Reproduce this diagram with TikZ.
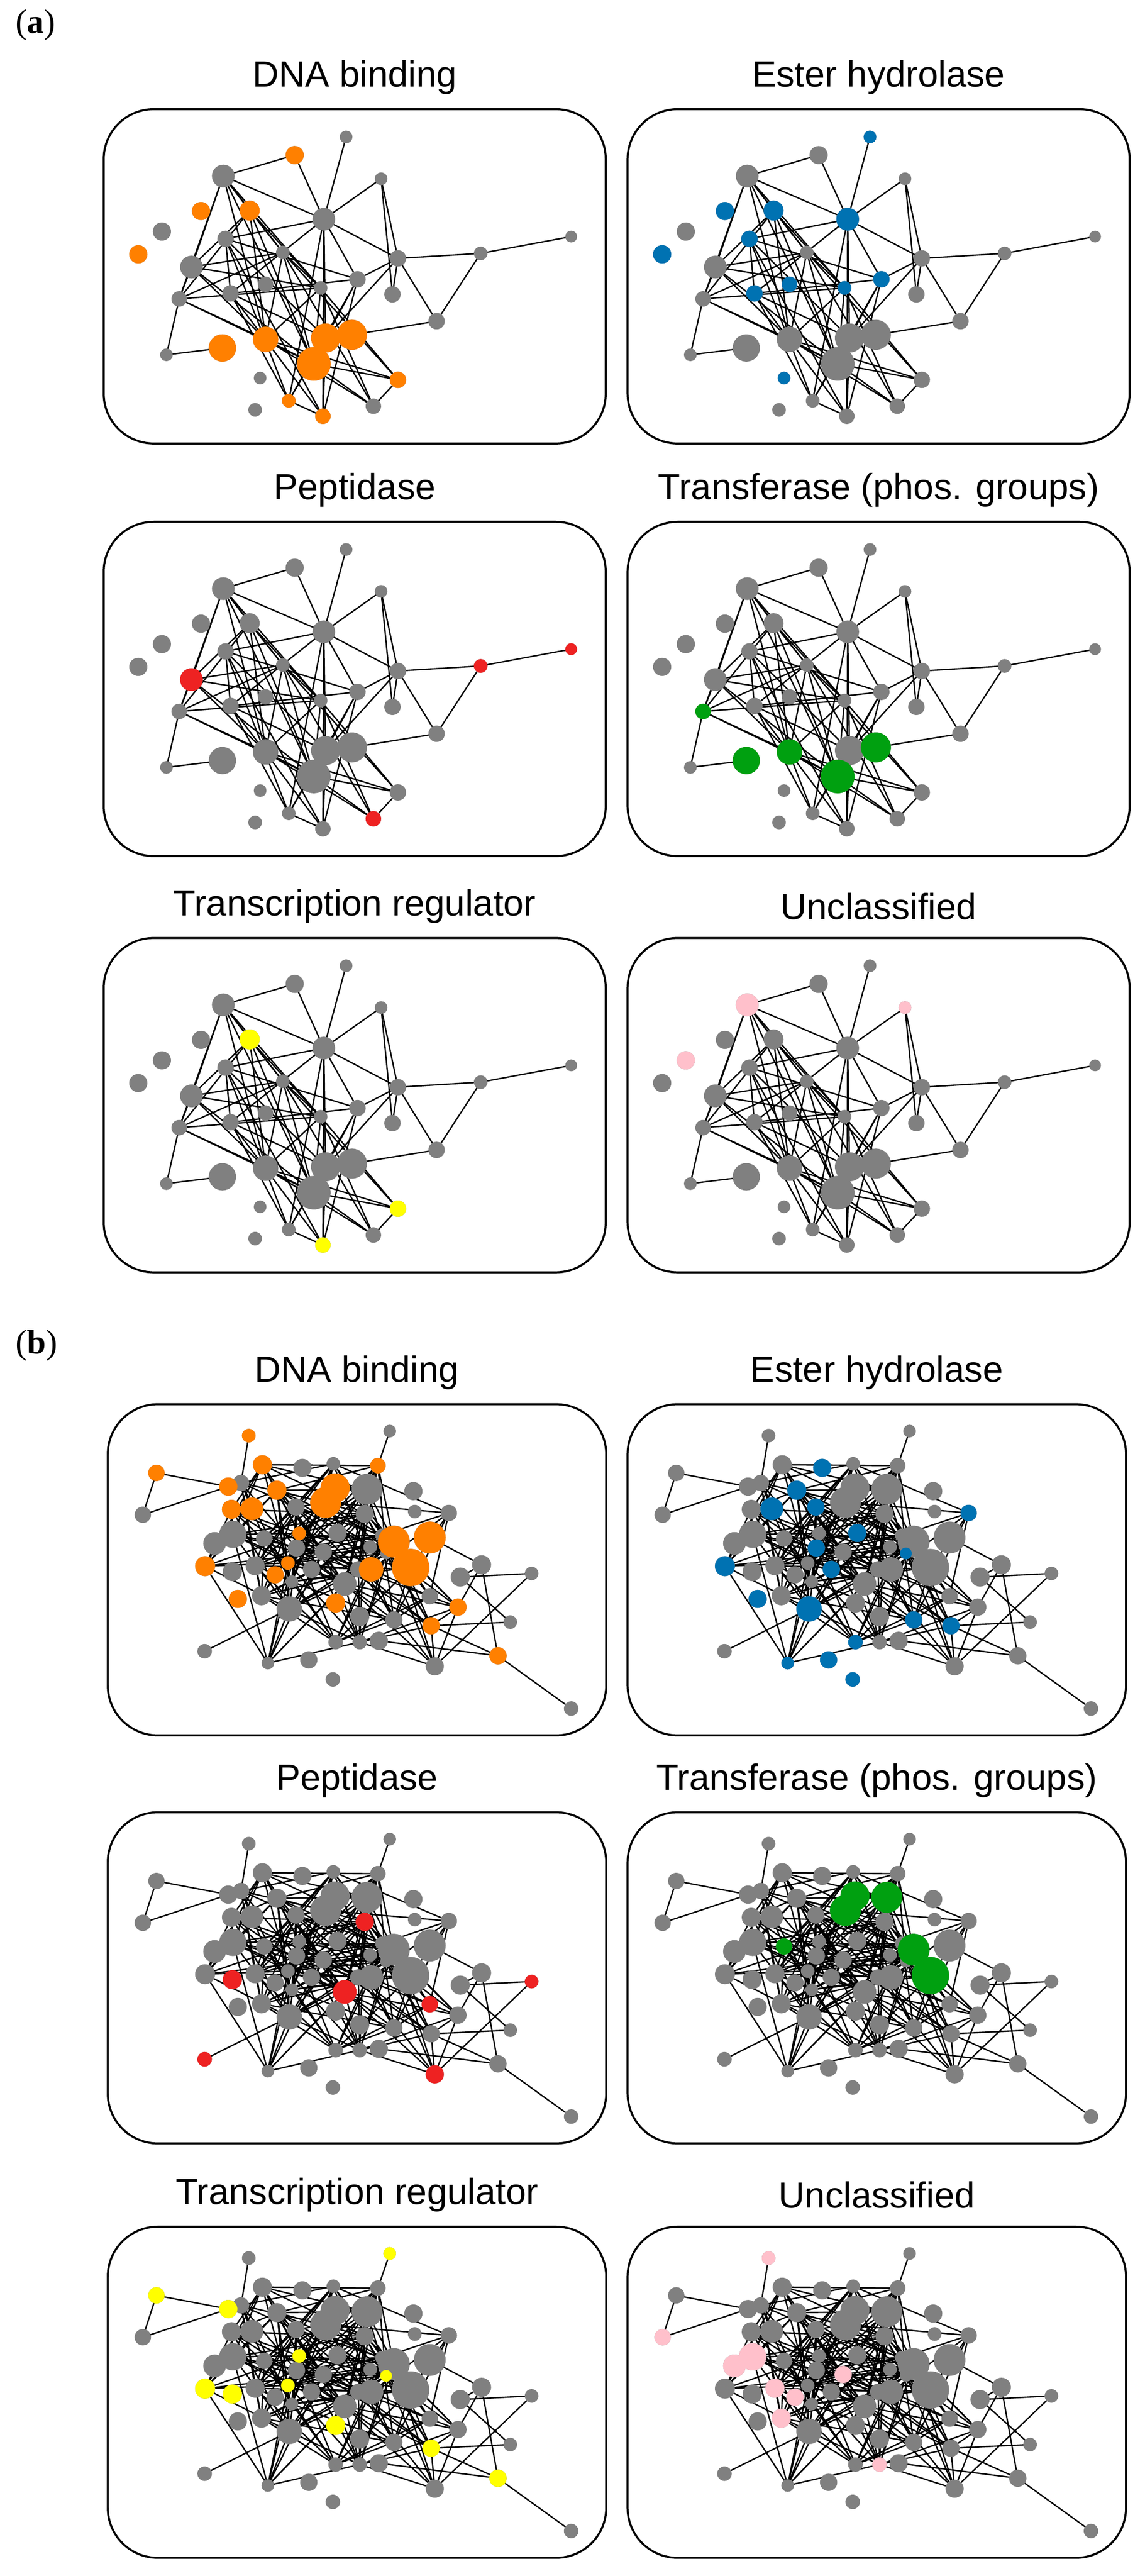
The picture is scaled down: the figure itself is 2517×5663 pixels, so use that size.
\documentclass[tikz,border=0pt]{standalone}
\usepackage{fontspec}
\setmainfont{Liberation Sans}
\newfontfamily\labfont{Liberation Serif}
\definecolor{cGr}{HTML}{808080}
\definecolor{cOr}{HTML}{FF8000}
\definecolor{cBl}{HTML}{0072B2}
\definecolor{cRe}{HTML}{EE2222}
\definecolor{cGn}{HTML}{00A010}
\definecolor{cYe}{HTML}{FFFF00}
\definecolor{cPk}{HTML}{FFC0CB}
\tikzset{edge/.style={line width=0.3pt,black},
 nd/.style={circle,inner sep=0pt,draw=none},
 panelbox/.style={draw,line width=0.45pt,rounded corners=11pt},
 ttl/.style={font=\fontsize{8}{9.6}\selectfont,inner sep=0pt},
 lab/.style={font=\labfont\fontsize{7.5}{9}\selectfont,inner sep=0pt}}
\begin{document}
\begin{tikzpicture}[x=0.1pt,y=-0.1pt]
\gdef\aN{34}\gdef\bN{67}\gdef\aR{480}\gdef\bR{300}
\gdef\aW{1104}\gdef\aH{735}\gdef\bW{1096}\gdef\bH{728}
\foreach \i/\x/\y/\r/\c in {1/533/61/14/0,2/420/101/20/1,3/263/147/25/1,4/610/153/14/0,5/214/224/20/1,6/321/223/22/1,7/484/242/25/1,8/128/269/20/1,9/1028/280/13/0,10/268/285/18/1,11/76/319/20/1,12/394/315/15/1,13/647/328/18/0,14/829/317/15/0,15/193/347/25/1,16/558/374/18/1,17/356/385/17/1,18/477/393/15/1,19/279/405/18/1,20/635/407/18/1,21/166/417/17/1,22/732/466/18/0,23/261/525/30/1,24/356/506/28/1,25/488/503/32/1,26/546/496/33/1,27/462/560/37/1,28/138/540/14/0,29/344/591/14/1,30/647/595/18/1,31/407/641/15/1,32/333/661/15/1,33/593/653/17/1,34/482/675/17/1}{%
 \expandafter\xdef\csname ax\i\endcsname{\x}\expandafter\xdef\csname ay\i\endcsname{\y}%
 \expandafter\xdef\csname ar\i\endcsname{\r}\expandafter\xdef\csname ac\i\endcsname{\c}}
\foreach \i/\x/\y/\r/\c in {1/310/69/15/0,2/620/59/14/0,3/107/151/18/0,4/340/133/21/1,5/428/140/20/1,6/496/131/15/1,7/594/135/17/1,8/265/181/20/1,9/293/173/18/1,10/372/189/21/1,11/500/184/32/1,12/479/216/34/1,13/570/187/34/1,14/672/191/20/1,15/77/243/18/0,16/272/231/21/1,17/317/230/25/1,18/414/226/19/1,19/565/241/20/1,20/675/236/15/1,21/750/239/18/1,22/275/286/30/1,23/235/306/25/1,24/344/295/18/1,25/421/284/15/1,26/505/283/20/1,27/603/288/15/1,28/629/302/35/1,29/708/293/35/1,30/415/316/19/1,31/474/325/19/1,32/577/314/15/1,33/666/359/41/1,34/214/356/22/1,35/274/368/21/1,36/324/355/21/1,37/396/349/15/1,38/448/363/19/1,39/579/363/27/1,40/551/363/18/1,41/368/375/19/1,42/405/390/14/1,43/822/353/21/0,44/775/380/21/1,45/932/372/15/0,46/521/395/26/1,47/286/428/20/1,48/338/421/21/1,49/399/450/28/1,50/501/437/21/1,51/708/422/18/1,52/770/446/19/1,53/554/467/21/1,54/629/474/19/1,55/711/487/19/1,56/885/479/15/0,57/501/523/16/1,58/554/523/16/1,59/596/520/20/1,60/213/543/16/0,61/352/569/14/1,62/442/562/19/1,63/858/553/19/0,64/719/576/20/1,65/495/605/16/1,66/1019/669/16/0,67/612/328/13/1}{%
 \expandafter\xdef\csname bx\i\endcsname{\x}\expandafter\xdef\csname by\i\endcsname{\y}%
 \expandafter\xdef\csname br\i\endcsname{\r}\expandafter\xdef\csname bc\i\endcsname{\c}}
\gdef\aE{1/7,4/7,4/20,7/13,13/14,14/9,13/22,14/22,22/26,13/16,13/25,28/21,28/23,2/3,2/7,3/7,13/20,4/13}
\gdef\bE{1/9,2/7,3/15,3/8,15/8,60/49,66/63,63/43,63/59,63/55,45/44,45/64,56/44,56/55,43/44,43/29,43/52}
% #1 prefix, #2 network, #3 x, #4 y, #5 colour, #6 coloured list, #7 title
\newcommand\netpanel[7]{%
 \edef\curN{\csname #2N\endcsname}%
 \edef\curR{\csname #2R\endcsname}%
 \edef\curE{\csname #2E\endcsname}%
 \draw[panelbox] (#3,#4) rectangle ++(\csname #2W\endcsname,\csname #2H\endcsname);
 \node[ttl] (#1-t) at ({#3+0.5*\csname #2W\endcsname},{#4-70}) {#7};
 \foreach \i in {1,...,\curN}
  \coordinate (#1-\i) at ({#3+\csname #2x\i\endcsname},{#4+\csname #2y\i\endcsname});
 \foreach \i in {1,...,\curN}{%
  \foreach \j in {1,...,\curN}{%
   \pgfmathtruncatemacro\ok{(\j>\i)*(\csname #2c\i\endcsname)*(\csname #2c\j\endcsname)*(mod(\i*\j+\i+\j,3)==0)*(veclen(\csname #2x\i\endcsname-\csname #2x\j\endcsname,\csname #2y\i\endcsname-\csname #2y\j\endcsname)<\curR)}%
   \ifnum\ok=1 \draw[edge] (#1-\i) -- (#1-\j);\fi}}
 \foreach \i/\j in \curE \draw[edge] (#1-\i) -- (#1-\j);
 \foreach \i in {1,...,\curN}
  \node[nd,fill=cGr,minimum size=\csname #2r\i\endcsname*0.2pt] (#1-n\i) at (#1-\i) {};
 \foreach \i in {#6}
  \node[nd,fill=#5,minimum size=\csname #2r\i\endcsname*0.2pt] (#1-h\i) at (#1-\i) {};
}
\useasboundingbox (0,0) rectangle (2517,5663);
\node[lab] (la) at (78,55) {(\textbf{a})};
\node[lab] (lb) at (80,2958) {(\textbf{b})};
\netpanel{a1}{a}{228}{240}{cOr}{2,5,6,11,23,24,25,26,27,30,31,34}{DNA binding}
\netpanel{a2}{a}{1380}{240}{cBl}{1,5,6,7,10,11,16,17,18,19,29}{Ester hydrolase}
\netpanel{a3}{a}{228}{1147}{cRe}{9,14,15,33}{Peptidase}
\netpanel{a4}{a}{1380}{1147}{cGn}{21,23,24,26,27}{Transferase (phos. groups)}
\netpanel{a5}{a}{228}{2062}{cYe}{6,30,34}{Transcription regulator}
\netpanel{a6}{a}{1380}{2062}{cPk}{3,4,8}{Unclassified}
\netpanel{b1}{b}{237}{3087}{cOr}{1,3,4,7,8,10,11,12,16,17,25,28,29,33,34,37,39,41,47,50,52,55,63}{DNA binding}
\netpanel{b2}{b}{1380}{3087}{cBl}{5,10,17,18,21,26,30,34,38,67,47,49,54,55,57,61,62,65}{Ester hydrolase}
\netpanel{b3}{b}{237}{3984}{cRe}{19,35,46,51,45,60,64}{Peptidase}
\netpanel{b4}{b}{1380}{3984}{cGn}{11,12,13,24,28,33}{Transferase (phos. groups)}
\netpanel{b5}{b}{237}{4895}{cYe}{2,3,8,25,34,35,37,67,50,55,63}{Transcription regulator}
\netpanel{b6}{b}{1380}{4895}{cPk}{1,15,22,23,31,36,41,48,58}{Unclassified}
\end{tikzpicture}
\end{document}
